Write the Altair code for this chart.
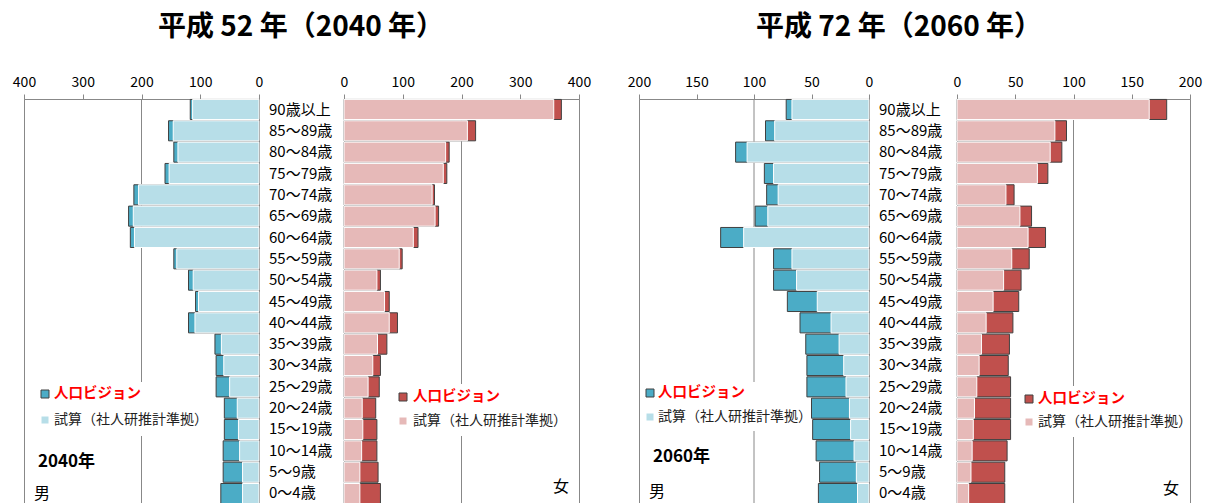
import altair as alt
import pandas as pd

FONT = "Noto Sans CJK JP"

ages = ["90歳以上", "85～89歳", "80～84歳", "75～79歳", "70～74歳", "65～69歳",
        "60～64歳", "55～59歳", "50～54歳", "45～49歳", "40～44歳", "35～39歳",
        "30～34歳", "25～29歳", "20～24歳", "15～19歳", "10～14歳", "5～9歳", "0～4歳"]

# 2040 (平成52年)
m2040_vision = [117, 154, 145, 160, 213, 222, 219, 145, 120, 108, 120, 75, 73, 73, 59, 59, 61, 61, 65]
m2040_trial = [113, 146, 138, 153, 205, 214, 212, 140, 112, 103, 109, 64, 60, 50, 37, 35, 33, 28, 28]
f2040_vision = [370, 224, 179, 175, 154, 161, 126, 99, 62, 77, 91, 73, 62, 60, 54, 56, 56, 58, 62]
f2040_trial = [357, 210, 173, 169, 150, 155, 118, 94, 56, 69, 77, 57, 49, 41, 31, 32, 30, 27, 27]

# 2060 (平成72年)
m2060_vision = [72, 90, 116, 91, 89, 99, 129, 83, 83, 71, 60, 55, 54, 54, 50, 49, 46, 43, 44]
m2060_trial = [67, 82, 106, 83, 79, 88, 109, 67, 63, 45, 33, 26, 22, 20, 17, 16, 13, 11, 10]
f2060_vision = [180, 94, 90, 78, 49, 64, 76, 62, 55, 53, 48, 45, 44, 46, 46, 46, 43, 41, 41]
f2060_trial = [165, 84, 80, 69, 42, 54, 61, 47, 40, 31, 25, 21, 19, 17, 15, 14, 13, 12, 10]

ticks2040 = [0, 100, 200, 300, 400]
ticks2060 = [0, 50, 100, 150, 200]

series_names = ["人口ビジョン", "試算（社人研推計準拠）"]
titles = ["平成 52 年（2040 年）", "平成 72 年（2060 年）"]
year_labels = ["2040年", "2060年"]

BLUE_DARK, BLUE_LIGHT = "#4BACC6", "#B7DEE8"
RED_DARK, RED_LIGHT = "#C0504D", "#E6B9B8"
H = 405
CLEAR = alt.ViewBackground(stroke="transparent")


def y_enc():
    return alt.Y("age:N", sort=ages,
                 scale=alt.Scale(domain=ages, paddingInner=0.06, paddingOuter=0.02),
                 axis=None)


def side(vision, trial, ticks, grid, male, dark, light, width, leg, texts):
    df = pd.DataFrame({"age": ages, "vision": vision, "trial": trial})
    xs = alt.Scale(domain=[0, ticks[-1]], reverse=male, nice=False)
    ax = alt.Axis(orient="top", values=ticks, grid=False, title=None, labelFont=FONT,
                  labelFontSize=14, labelColor="#000", domainColor="#888",
                  tickColor="#888", tickSize=5, labelPadding=5, format="d",
                  labelFlush=False)
    one = pd.DataFrame({"a": [0]})
    sx, y1, y2, tx, rx1, rx2, ry1, ry2 = leg
    layers = []
    layers.append(alt.Chart(pd.DataFrame({"g": grid})).mark_rule(color="#888", strokeWidth=1)
                  .encode(x=alt.X("g:Q", scale=xs, axis=ax)))
    layers.append(alt.Chart(one).mark_rect(fill="white")
                  .encode(x=alt.value(rx1), x2=alt.value(rx2), y=alt.value(ry1), y2=alt.value(ry2)))
    layers.append(alt.Chart(df).mark_bar(fill=dark, stroke="#404040", strokeWidth=1)
                  .encode(x=alt.X("vision:Q", scale=xs, axis=ax), y=y_enc()))
    layers.append(alt.Chart(df).mark_bar(fill=light, stroke="white", strokeWidth=1)
                  .encode(x=alt.X("trial:Q", scale=xs, axis=ax), y=y_enc()))
    layers.append(alt.Chart(one).mark_square(size=64, fill=dark, stroke="#404040", strokeWidth=1, opacity=1)
                  .encode(x=alt.value(sx), y=alt.value(y1)))
    layers.append(alt.Chart(one).mark_square(size=64, fill=light, stroke="white", strokeWidth=1, opacity=1)
                  .encode(x=alt.value(sx), y=alt.value(y2)))
    layers.append(alt.Chart(pd.DataFrame({"t": [series_names[0]]}))
                  .mark_text(align="left", baseline="middle", font=FONT, fontSize=14.5,
                             fontWeight="bold", color="#FF0000")
                  .encode(x=alt.value(tx), y=alt.value(y1), text="t:N"))
    layers.append(alt.Chart(pd.DataFrame({"t": [series_names[1]]}))
                  .mark_text(align="left", baseline="middle", font=FONT, fontSize=14, color="#222")
                  .encode(x=alt.value(tx), y=alt.value(y2), text="t:N"))
    for (t, x, y, size, bold, align) in texts:
        layers.append(alt.Chart(pd.DataFrame({"t": [t]}))
                      .mark_text(align=align, baseline="middle", font=FONT, fontSize=size,
                                 fontWeight="bold" if bold else "normal", color="#000")
                      .encode(x=alt.value(x), y=alt.value(y), text="t:N"))
    return alt.layer(*layers).properties(width=width, height=H)


def mid(width, title, tx):
    labels = (alt.Chart(pd.DataFrame({"age": ages}))
              .mark_text(align="left", baseline="middle", font=FONT, fontSize=15, color="#000")
              .encode(y=y_enc(), x=alt.value(10), text="age:N"))
    head = (alt.Chart(pd.DataFrame({"t": [title]}))
            .mark_text(align="center", baseline="middle", font=FONT, fontSize=28,
                       fontWeight="bold", color="#000")
            .encode(x=alt.value(tx), y=alt.value(-71), text="t:N"))
    return alt.layer(labels, head).properties(width=width, height=H, view=CLEAR)


gap = (alt.Chart(pd.DataFrame({"a": [0]})).mark_point(opacity=0)
       .encode(x=alt.value(0), y=alt.value(0))
       .properties(width=60, height=H, view=CLEAR))

m1 = side(m2040_vision, m2040_trial, ticks2040, [200], True, BLUE_DARK, BLUE_LIGHT, 235,
          (21, 295, 321, 30, 10, 180, 283, 337),
          [(year_labels[0], 14, 363, 17, True, "left"), ("男", 10, 395, 16, False, "left")])
f1 = side(f2040_vision, f2040_trial, ticks2040, [200], False, RED_DARK, RED_LIGHT, 235,
          (59, 298, 322, 69, 50, 228, 285, 337),
          [("女", 217, 388, 16, False, "center")])
m2 = side(m2060_vision, m2060_trial, ticks2060, [100], True, BLUE_DARK, BLUE_LIGHT, 230,
          (11, 294, 318, 19, 5, 165, 283, 332),
          [(year_labels[1], 14, 358, 17, True, "left"), ("男", 10, 393, 16, False, "left")])
f2 = side(f2060_vision, f2060_trial, ticks2060, [100], False, RED_DARK, RED_LIGHT, 233,
          (72, 300, 323, 81, 65, 232, 287, 338),
          [("女", 214, 390, 16, False, "center")])

chart = (alt.hconcat(m1, mid(85, titles[0], 42), f1, gap,
                     m2, mid(88, titles[1], 30), f2, spacing=0, bounds="flush")
         .resolve_scale(x="independent")
         .properties(padding={"left": 3, "top": 5, "right": 0, "bottom": 0})
         .configure_view(stroke="#888", strokeWidth=1))

chart.save("out.html", embed_options={"renderer": "svg", "actions": False})
